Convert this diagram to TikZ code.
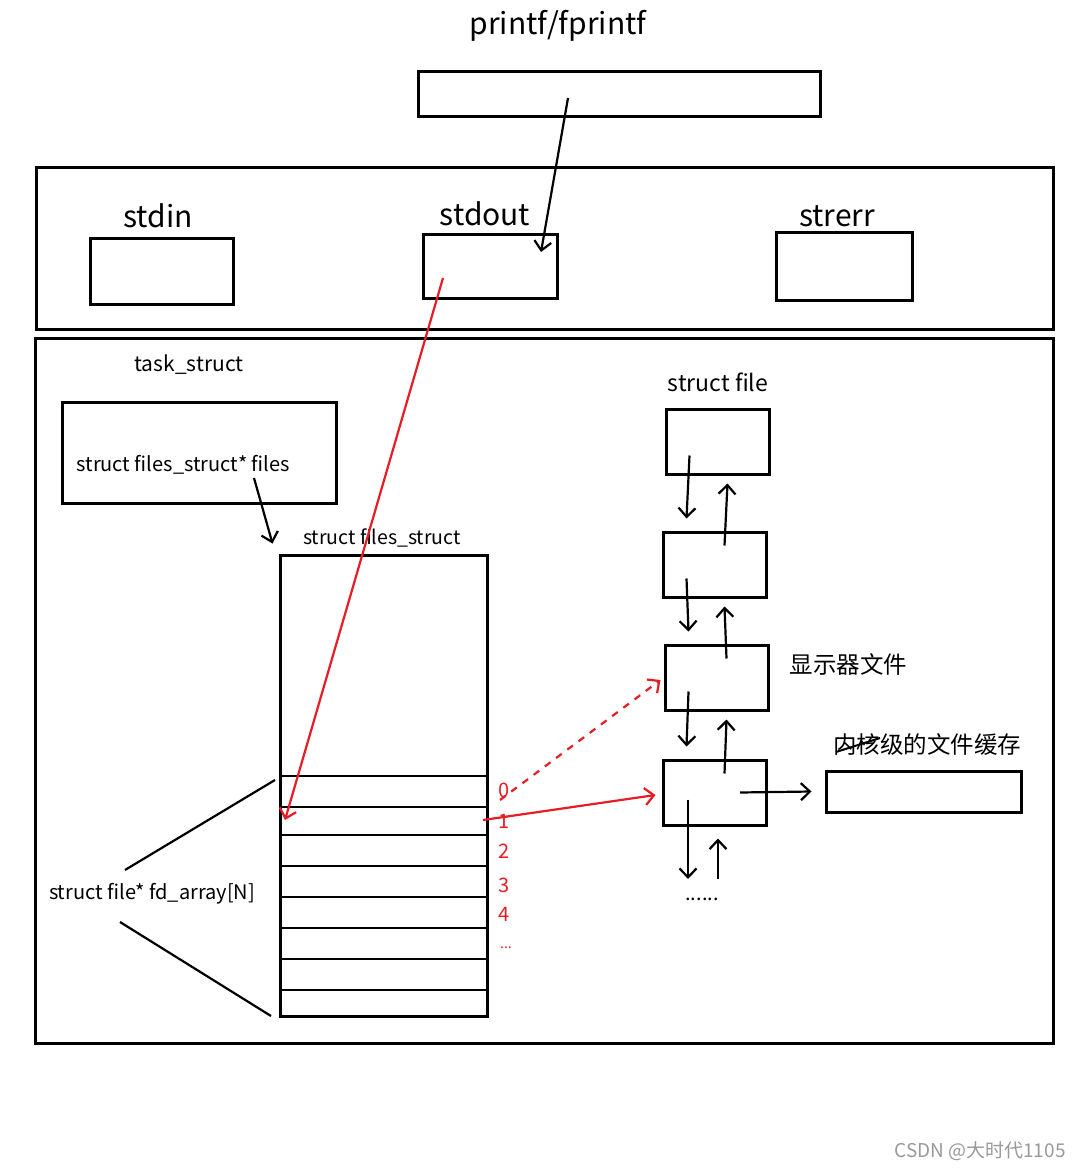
\documentclass[tikz,border=0pt]{standalone}
\usepackage{fontspec}
\setmainfont{Noto Sans CJK SC}
\usetikzlibrary{arrows.meta}
\definecolor{penred}{RGB}{232,28,36}

\begin{document}
\begin{tikzpicture}[x=1pt,y=-1pt,
            box/.style={draw,inner sep=0pt,line width=3pt},
            edge/.style={-{Straight Barb[length=9pt,width=17pt]},line width=2.2pt},
            redge/.style={edge,draw=penred},
            bigtext/.style={font=\fontsize{30}{34}\selectfont},
            midtext/.style={font=\fontsize{20}{24}\selectfont},
            cjktext/.style={font=\fontsize{23.5}{27}\selectfont},
            numtext/.style={font=\fontsize{20}{24}\selectfont,text=penred},
        ]
        \useasboundingbox (0,0) rectangle (1082,1169);

        %user level
        \node[bigtext] (printflbl) at (558,26) {printf/fprintf};
        \node[box,minimum width=402,minimum height=45] (printf) at (619,94.5) {};

        %std streams
        \node[box,minimum width=1017,minimum height=161] (stdframe) at (544.5,248.5) {};
        \node[box,minimum width=143,minimum height=66] (stdin) at (161.5,271) {};
        \node[box,minimum width=134,minimum height=64] (stdout) at (490,266) {};
        \node[box,minimum width=136,minimum height=68] (strerr) at (844,266) {};
        \node[bigtext] at (158,216) {stdin};
        \node[bigtext] at (485,214) {stdout};
        \node[bigtext] at (837,216) {strerr};

        %kernel
        \node[box,minimum width=1018,minimum height=705] (kframe) at (544,690.5) {};
        \node[font=\fontsize{21}{25}\selectfont] at (189,365) {task\_struct};
        \node[box,minimum width=274,minimum height=101] (task) at (199,452.5) {};
        \node[midtext,anchor=west] (filesptr) at (73,465) {struct files\_struct* files};
        \node[font=\fontsize{19.5}{24}\selectfont] at (382,538) {struct files\_struct};
        \node[box,minimum width=207,minimum height=461] (fd) at (383.5,785.5) {};
        \foreach \y in {776,807,835,866,897,928,959,990}
            \draw[line width=2.2pt] (fd.west |- 0,\y) -- (fd.east |- 0,\y);
        \node[midtext] (fdlbl) at (152,894) {struct file* fd\_array[N]};
        \draw[line width=2.2pt] (275,780) -- (125,870);
        \draw[line width=2.2pt] (120,922) -- (271,1016);
        \foreach \n/\y in {0/790,1/821,2/851,3/885,4/914}
            \node[numtext] at (504,\y) {\n};
        \node[numtext,font=\fontsize{14}{16}\selectfont] at (506,948) {...};
        \coordinate (slot0) at (500,800);
        \coordinate (slot1w) at (285,820);
        \coordinate (slot1e) at (483,820);

        %struct file list
        \node[font=\fontsize{23}{27}\selectfont] at (718,382) {struct file};
        \node[box,minimum width=103,minimum height=65] (f1) at (717.5,441.5) {};
        \node[box,minimum width=103,minimum height=65] (f2) at (714.5,564.5) {};
        \node[box,minimum width=103,minimum height=65] (f3) at (716.5,677.5) {};
        \node[box,minimum width=103,minimum height=65] (f4) at (714.5,792.5) {};
        \node[cjktext,anchor=west] at (786,664) {显示器文件};
        \node[cjktext] (cachelbl) at (927,745) {内核级的文件缓存};
        \draw[line width=2pt] (836,752) -- (880,738);
        \node[box,minimum width=195,minimum height=41] (cache) at (923.5,791.5) {};
        \node[midtext] (more) at (702,899) {......};

        \foreach \a/\b in {f1/f2,f2/f3,f3/f4} {
            \draw[edge] ([xshift=-28pt,yshift=-14pt]\a.center) -- ([xshift=-28pt,yshift=12pt]\b.north);
            \draw[edge] ([xshift=10pt,yshift=19pt]\b.center) -- ([xshift=10pt,yshift=-8pt]\a.south);
        }
        \coordinate (nextdown) at (688,879);
        \coordinate (nextup) at (718,879);
        \draw[edge] ([xshift=-26.5pt,yshift=-7pt]f4.center) -- (nextdown);
        \draw[edge] (nextup) -- ([xshift=3.5pt,yshift=-12pt]f4.south);
        \draw[edge] ([xshift=25.5pt]f4.center) -- ([xshift=-13pt]cache.west);

        %calls
        \draw[edge] ([xshift=-51pt,yshift=-3.5pt]printf.center) -- ([xshift=51pt,yshift=14pt]stdout.center);
        \draw[edge] ([xshift=55pt,yshift=-25.5pt]task.center) -- ([xshift=-6pt,yshift=10pt]fd.north west);
        \draw[redge] ([xshift=-47pt,yshift=-12pt]stdout.center) -- (slot1w);
        \draw[redge,dashed,dash pattern=on 7pt off 7pt] (slot0) -- ([xshift=-3pt,yshift=-2.5pt]f3.west);
        \draw[redge] (slot1e) -- ([xshift=-6pt,yshift=-2.5pt]f4.west);

        %watermark
        \node[font=\fontsize{19}{22}\selectfont,text=black!40] at (980,1151) {CSDN @大时代1105};
\end{tikzpicture}
\end{document}
